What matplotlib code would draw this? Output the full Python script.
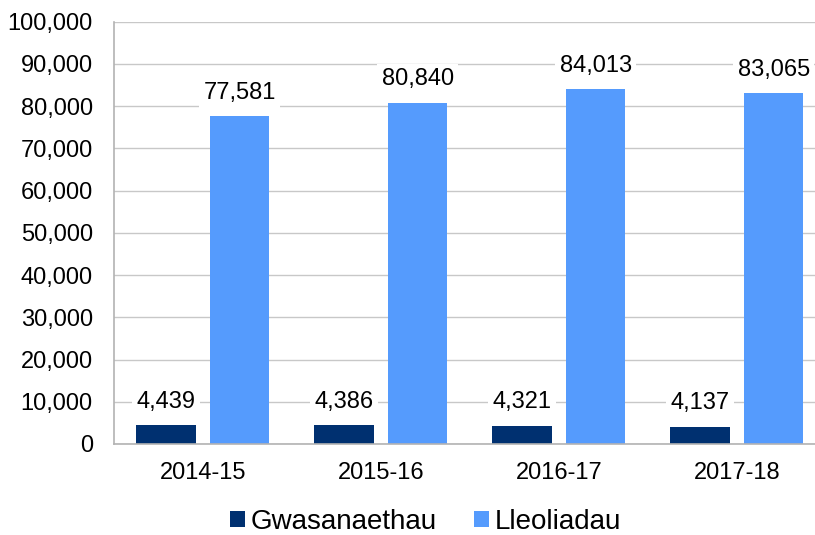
import matplotlib.pyplot as plt
import numpy as np
from matplotlib.patches import Patch
from matplotlib.ticker import FuncFormatter, MultipleLocator

plt.rcParams["font.family"] = ["Liberation Sans", "DejaVu Sans"]

years = ["2014-15", "2015-16", "2016-17", "2017-18"]
gwasanaethau = [4439, 4386, 4321, 4137]
lleoliadau = [77581, 80840, 84013, 83065]
series_names = ["Gwasanaethau", "Lleoliadau"]
colors = ["#003070", "#559bfd"]

W, H = 815, 535
fig = plt.figure(figsize=(W / 100, H / 100), dpi=100)
# plot area runs slightly past the right edge of the picture
ax = fig.add_axes([113.7 / W, (H - 444) / H, (825.8 - 113.7) / W, (444 - 21.7) / H])

x = np.arange(len(years))
width = 0.335
offset = 0.207

for values, color, shift in zip([gwasanaethau, lleoliadau], colors, [-offset, offset]):
    bars = ax.bar(x + shift, values, width=width, color=color, zorder=2)
    for bar, value in zip(bars, values):
        ax.annotate(
            f"{value:,}",
            xy=(bar.get_x() + bar.get_width() / 2, bar.get_height()),
            xytext=(0, 9),
            textcoords="offset points",
            ha="center",
            va="bottom",
            fontsize=17,
            zorder=3,
            bbox=dict(facecolor="white", edgecolor="none", pad=3),
        )

ax.set_xlim(-0.5, len(years) - 0.5)
ax.set_ylim(0, 100000)
ax.yaxis.set_major_locator(MultipleLocator(10000))
ax.yaxis.set_major_formatter(FuncFormatter(lambda v, _: f"{int(v):,}"))
ax.set_xticks(x)
ax.set_xticklabels(years)
ax.tick_params(axis="y", length=0, pad=15, labelsize=17)
ax.tick_params(axis="x", length=0, pad=13, labelsize=17)

ax.grid(axis="y", color="#c8c8c8", linewidth=1, zorder=0)
ax.set_axisbelow(True)
for side in ["top", "right"]:
    ax.spines[side].set_visible(False)
for side in ["left", "bottom"]:
    ax.spines[side].set_color("#b3b3b3")
    ax.spines[side].set_linewidth(1.2)

handles = [Patch(facecolor=c, edgecolor="none") for c in colors]
fig.legend(
    handles,
    series_names,
    loc="center",
    bbox_to_anchor=(425.5 / W, (H - 522) / H),
    ncol=2,
    frameon=False,
    fontsize=20,
    handlelength=0.54,
    handleheight=0.54,
    handletextpad=0.2,
    columnspacing=1.35,
    borderpad=0,
)

fig.savefig("out.png", dpi=100)
